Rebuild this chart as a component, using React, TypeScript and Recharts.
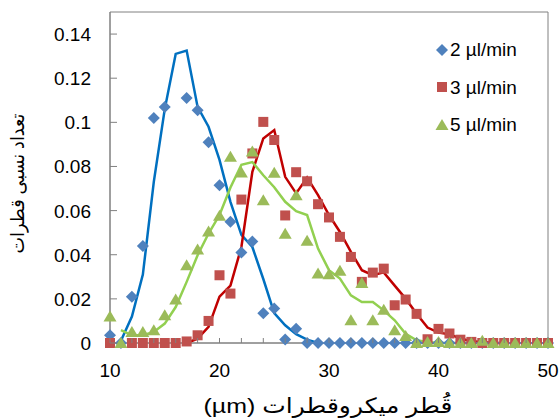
import {
  ComposedChart,
  Scatter,
  Line,
  XAxis,
  YAxis,
  ReferenceArea,
  Legend,
} from "recharts";

const FONT = "'Liberation Sans', Arial, 'DejaVu Sans', sans-serif";
const AXIS_COLOR = "#808080";

const X_TICKS = [10, 12, 14, 16, 18, 20, 22, 24, 26, 28, 30, 32, 34, 36, 38, 40, 42, 44, 46, 48, 50];
const Y_TICKS = [0, 0.02, 0.04, 0.06, 0.08, 0.1, 0.12, 0.14];

const X_TITLE = "قُطر میکروقطرات (µm)";
const Y_TITLE = "تعداد نسبی قطرات";

// measured points, 2 µl/min (diamonds)
const SIZE_2 = [10, 11, 12, 13, 14, 15, 17, 18, 19, 20, 21, 22, 23, 24, 25, 26, 27, 28, 29, 30, 31, 32, 33, 34, 35, 36, 37, 38, 39, 40, 41, 42, 43, 44, 45, 46, 47, 48, 49, 50];
const FRAC_2 = [0.0035, 0, 0.021, 0.044, 0.102, 0.107, 0.111, 0.1055, 0.091, 0.0715, 0.055, 0.041, 0.046, 0.0135, 0.0156, 0.0016, 0.0065, 0, 0, 0, 0, 0, 0, 0, 0, 0, 0, 0, 0, 0, 0, 0, 0, 0, 0, 0, 0, 0, 0, 0];

// 3 µl/min (squares)
const SIZE_3 = [10, 12, 13, 14, 15, 16, 17, 18, 19, 20, 21, 22, 23, 24, 25, 26, 27, 28, 29, 30, 31, 32, 33, 34, 35, 36, 37, 38, 39, 40, 41, 42, 43, 44, 45, 46, 47, 48, 49, 50];
const FRAC_3 = [0, 0, 0, 0, 0, 0, 0.0007, 0.0035, 0.01, 0.0307, 0.0224, 0.065, 0.0859, 0.1002, 0.092, 0.0578, 0.0774, 0.0733, 0.0629, 0.0569, 0.0481, 0.039, 0.0277, 0.0319, 0.0337, 0.0171, 0.0197, 0.0132, 0.0017, 0.0064, 0.0043, 0.0015, 0.0005, 0, 0, 0, 0, 0, 0, 0];

// 5 µl/min (triangles)
const SIZE_5 = [10, 11, 12, 13, 14, 15, 16, 17, 18, 19, 20, 21, 22, 23, 24, 25, 26, 27, 28, 29, 30, 31, 32, 33, 34, 35, 36, 37, 38, 39, 40, 41, 42, 43, 44, 45, 46, 47, 48, 49, 50];
const FRAC_5 = [0.012, 0, 0.005, 0.005, 0.0058, 0.0126, 0.0197, 0.0352, 0.0424, 0.0505, 0.0577, 0.0844, 0.0773, 0.0868, 0.0647, 0.0771, 0.0495, 0.067, 0.0463, 0.0315, 0.0312, 0.0327, 0.0103, 0.0272, 0.0103, 0.0151, 0.0058, 0.0032, 0, 0.0005, 0.0005, 0, 0, 0, 0.001, 0, 0, 0, 0, 0, 0];

// fitted curves
const FIT_X_2 = [11, 12, 13, 14, 15, 16, 17, 18, 19, 20, 21, 22, 23, 24, 25, 26, 27, 28, 29];
const FIT_Y_2 = [0.001, 0.012, 0.031, 0.073, 0.106, 0.131, 0.1325, 0.107, 0.098, 0.083, 0.064, 0.049, 0.0435, 0.029, 0.0135, 0.008, 0.004, 0.0015, 0];

const FIT_X_3 = [17, 18, 19, 20, 21, 22, 23, 24, 25, 26, 27, 28, 29, 30, 31, 32, 33, 34, 35, 36, 37, 38, 39, 40, 41, 42, 43, 44, 45, 46];
const FIT_Y_3 = [0, 0.002, 0.0073, 0.021, 0.026, 0.0435, 0.0776, 0.0927, 0.0965, 0.0753, 0.0678, 0.075, 0.067, 0.058, 0.0503, 0.0413, 0.033, 0.0307, 0.032, 0.026, 0.0201, 0.0133, 0.007, 0.0047, 0.004, 0.002, 0.0008, 0.0004, 0, 0];

const FIT_X_5 = [11, 12, 13, 14, 15, 16, 17, 18, 19, 20, 21, 22, 23, 24, 25, 26, 27, 28, 29, 30, 31, 32, 33, 34, 35, 36, 37, 38, 39, 40, 41, 42, 43];
const FIT_Y_5 = [0.0058, 0.0035, 0.0035, 0.005, 0.0088, 0.0163, 0.0277, 0.0398, 0.0496, 0.058, 0.0705, 0.0808, 0.082, 0.076, 0.0706, 0.064, 0.0597, 0.058, 0.0428, 0.033, 0.0292, 0.0216, 0.0186, 0.0186, 0.0148, 0.0103, 0.0042, 0.0012, 0.0005, 0, 0, 0, 0];

const zip = (xs: number[], ys: number[]) => xs.map((x, i) => ({ x, y: ys[i] }));

const SERIES = [
  { name: "2 µl/min", shape: "diamond", color: "#4F81BD", line: "#0070C0", pts: zip(SIZE_2, FRAC_2), fit: zip(FIT_X_2, FIT_Y_2) },
  { name: "3 µl/min", shape: "square", color: "#C0504D", line: "#C00000", pts: zip(SIZE_3, FRAC_3), fit: zip(FIT_X_3, FIT_Y_3) },
  { name: "5 µl/min", shape: "triangle", color: "#9BBB59", line: "#92D050", pts: zip(SIZE_5, FRAC_5), fit: zip(FIT_X_5, FIT_Y_5) },
];

function Marker({ shape, cx, cy, color }: { shape: string; cx: number; cy: number; color: string }) {
  if (shape === "diamond") {
    return <polygon points={`${cx},${cy - 6} ${cx + 6},${cy} ${cx},${cy + 6} ${cx - 6},${cy}`} fill={color} />;
  }
  if (shape === "square") {
    return <rect x={cx - 5} y={cy - 5} width={10} height={10} fill={color} />;
  }
  return <polygon points={`${cx},${cy - 6} ${cx + 6.5},${cy + 5} ${cx - 6.5},${cy + 5}`} fill={color} />;
}

function XTick({ x, y, payload }: any) {
  const v = payload.value;
  return (
    <g>
      <line x1={x} x2={x} y1={y} y2={y - 5} stroke={AXIS_COLOR} />
      {v % 10 === 0 && (
        <text x={x} y={y + 34} textAnchor="middle" fontFamily={FONT} fontSize={19} fill="#000">
          {v}
        </text>
      )}
    </g>
  );
}

function YTick({ x, y, payload }: any) {
  return (
    <g>
      <line x1={x} x2={x + 7} y1={y} y2={y} stroke={AXIS_COLOR} />
      <text x={x - 19} y={y + 7} textAnchor="end" fontFamily={FONT} fontSize={19} fill="#000">
        {String(payload.value)}
      </text>
    </g>
  );
}

function XTitle({ viewBox }: any) {
  const { x, y, width, height } = viewBox;
  return (
    <text
      x={x + width / 2 - 1}
      y={y + height - 6}
      textAnchor="middle"
      direction="rtl"
      textLength={249}
      lengthAdjust="spacingAndGlyphs"
      fontFamily={FONT}
      fontSize={21}
      fill="#000"
    >
      {X_TITLE}
    </text>
  );
}

function YTitle({ viewBox }: any) {
  const { y, height } = viewBox;
  const cx = 17;
  const cy = y + height / 2 + 6;
  return (
    <text
      x={cx}
      y={cy}
      transform={`rotate(-90, ${cx}, ${cy})`}
      textAnchor="middle"
      dominantBaseline="central"
      textLength={140}
      lengthAdjust="spacingAndGlyphs"
      fontFamily={FONT}
      fontSize={19}
      fill="#000"
    >
      {Y_TITLE}
    </text>
  );
}

function LegendBox() {
  return (
    <div style={{ fontFamily: FONT, fontSize: 19, color: "#000", lineHeight: 1 }}>
      {SERIES.map((s) => (
        <div key={s.name} style={{ display: "flex", alignItems: "center", height: 37.5 }}>
          <svg width={14} height={14} style={{ display: "block" }}>
            <Marker shape={s.shape} cx={7} cy={7} color={s.color} />
          </svg>
          <span style={{ marginLeft: 1 }}>{s.name}</span>
        </div>
      ))}
    </div>
  );
}

export default function App() {
  return (
    <div style={{ position: "absolute", left: 0, top: 0, background: "#fff" }}>
      <ComposedChart width={560} height={419} margin={{ top: 12, right: 12, bottom: 0, left: 0 }}>
        <XAxis
          dataKey="x"
          type="number"
          domain={[10, 50]}
          ticks={X_TICKS}
          interval={0}
          tickSize={0}
          tickMargin={0}
          tick={<XTick />}
          tickLine={false}
          axisLine={{ stroke: AXIS_COLOR }}
          height={76}
          label={(p: any) => <XTitle {...p} />}
        />
        <YAxis
          dataKey="y"
          type="number"
          domain={[0, 0.15]}
          ticks={Y_TICKS}
          interval={0}
          tickSize={0}
          tickMargin={0}
          tick={<YTick />}
          tickLine={false}
          axisLine={{ stroke: AXIS_COLOR }}
          width={110}
          label={(p: any) => <YTitle {...p} />}
        />
        <ReferenceArea x1={10} x2={50} y1={0} y2={0.15} fill="none" stroke={AXIS_COLOR} strokeWidth={1} />
        {SERIES.map((s) => (
          <Scatter
            key={s.name}
            name={s.name}
            data={s.pts}
            dataKey="y"
            isAnimationActive={false}
            shape={(p: any) => <Marker shape={s.shape} cx={p.cx} cy={p.cy} color={s.color} />}
          />
        ))}
        {SERIES.map((s) => (
          <Line
            key={s.name + "-fit"}
            data={s.fit}
            dataKey="y"
            type="linear"
            stroke={s.line}
            strokeWidth={2.5}
            dot={false}
            activeDot={false}
            legendType="none"
            isAnimationActive={false}
          />
        ))}
        <Legend
          layout="vertical"
          align="center"
          verticalAlign="middle"
          content={<LegendBox />}
          wrapperStyle={{ position: "absolute", left: 435, top: 31, width: 120 }}
        />
      </ComposedChart>
    </div>
  );
}
